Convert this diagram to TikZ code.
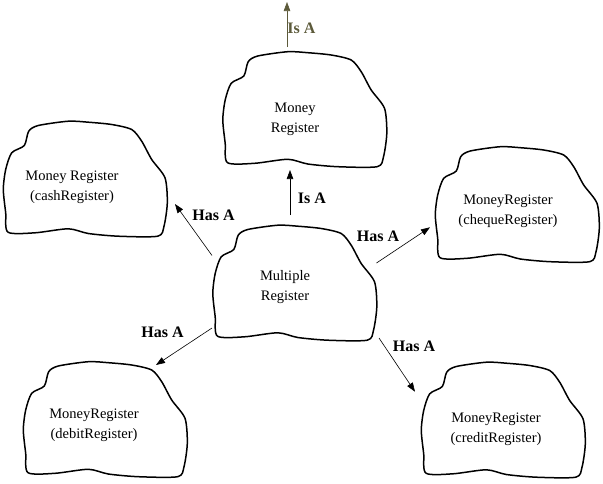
\documentclass[tikz,border=0pt]{standalone}
\usepackage{fontspec}
\setmainfont{Liberation Serif}
\usetikzlibrary{calc,arrows.meta}
\definecolor{olivearrow}{RGB}{92,90,58}
\tikzset{
  blobline/.style={line width=1.5pt, line join=round},
  txt/.style={align=center, inner sep=0pt, font=\fontsize{14.5}{20}\selectfont},
  lbl/.style={anchor=base, inner sep=0pt, font=\fontsize{16}{18}\selectfont\bfseries},
  rel/.style={draw, line width=0.6pt, -{Triangle[length=9pt,width=6.5pt]}},
  pics/blobshape/.style={code={
    \draw[blobline] plot[smooth cycle, tension=0.45] coordinates {
      (-16.7,-57.3) (-46.7,-53) (-56.3,-47.3) (-60.7,-33) (-73.3,-25.7)
      (-79.3,-9) (-81.7,11) (-79.3,34.3) (-77,53.7) (-50,54.3)
      (-16.7,50.3) (3.3,55) (33.3,57.7) (72.7,57.7) (79,47.7)
      (82.3,24.3) (80,-0.7) (66.7,-19) (56.7,-37.3) (46.7,-49)
      (26.7,-54) (3.3,-56.3)};
  }}
}
\begin{document}
\begin{tikzpicture}[x=1pt,y=-1pt]
\useasboundingbox (0,0) rectangle (603,483);
% blob centres
\coordinate (bT) at (304.5,109);
\coordinate (bC) at (85,178.5);
\coordinate (bQ) at (517,204);
\coordinate (bM) at (294.5,282.5);
\coordinate (bD) at (105,419);
\coordinate (bR) at (503,419.5);
\foreach \c in {bT,bC,bQ,bM,bD,bR} { \pic at (\c) {blobshape}; }
% texts
\node[txt] (T) at (295,119.6) {Money\\Register};
\node[txt] (C) at (72,187.3) {Money Register\\(cashRegister)};
\node[txt] (Q) at (508,211.6) {MoneyRegister\\(chequeRegister)};
\node[txt] (M) at (285,286.6) {Multiple\\Register};
\node[txt] (D) at (94,425.6) {MoneyRegister\\(debitRegister)};
\node[txt] (R) at (496,429.3) {MoneyRegister\\(creditRegister)};
% connectors
\coordinate (topend) at (287,2);
\draw[rel, draw=olivearrow, -{Triangle[length=9pt,width=6.5pt,fill=olivearrow]}, color=olivearrow]
  ($(bT)+(-17.5,-62)$) -- (topend);
\draw[rel] ($(bM)+(-4.5,-67.5)$) -- ($(bT)+(-14.5,61)$);
\draw[rel] ($(bM)+(-82.5,-27)$) -- ($(bC)+(90,25.5)$);
\draw[rel] ($(bM)+(82,-19.5)$) -- ($(bQ)+(-87,23.3)$);
\draw[rel] ($(bM)+(-82.5,45.5)$) -- ($(bD)+(51,-54)$);
\draw[rel] ($(bM)+(84.5,55.5)$) -- ($(bR)+(-88,-27.8)$);
% labels
\node[lbl, text=olivearrow] (l0) at (301.5,33) {Is A};
\node[lbl] (l1) at (312,203) {Is A};
\node[lbl] (l2) at (213.5,220) {Has A};
\node[lbl] (l3) at (378,241) {Has A};
\node[lbl] (l4) at (162.5,337) {Has A};
\node[lbl] (l5) at (414,351) {Has A};
\end{tikzpicture}
\end{document}
